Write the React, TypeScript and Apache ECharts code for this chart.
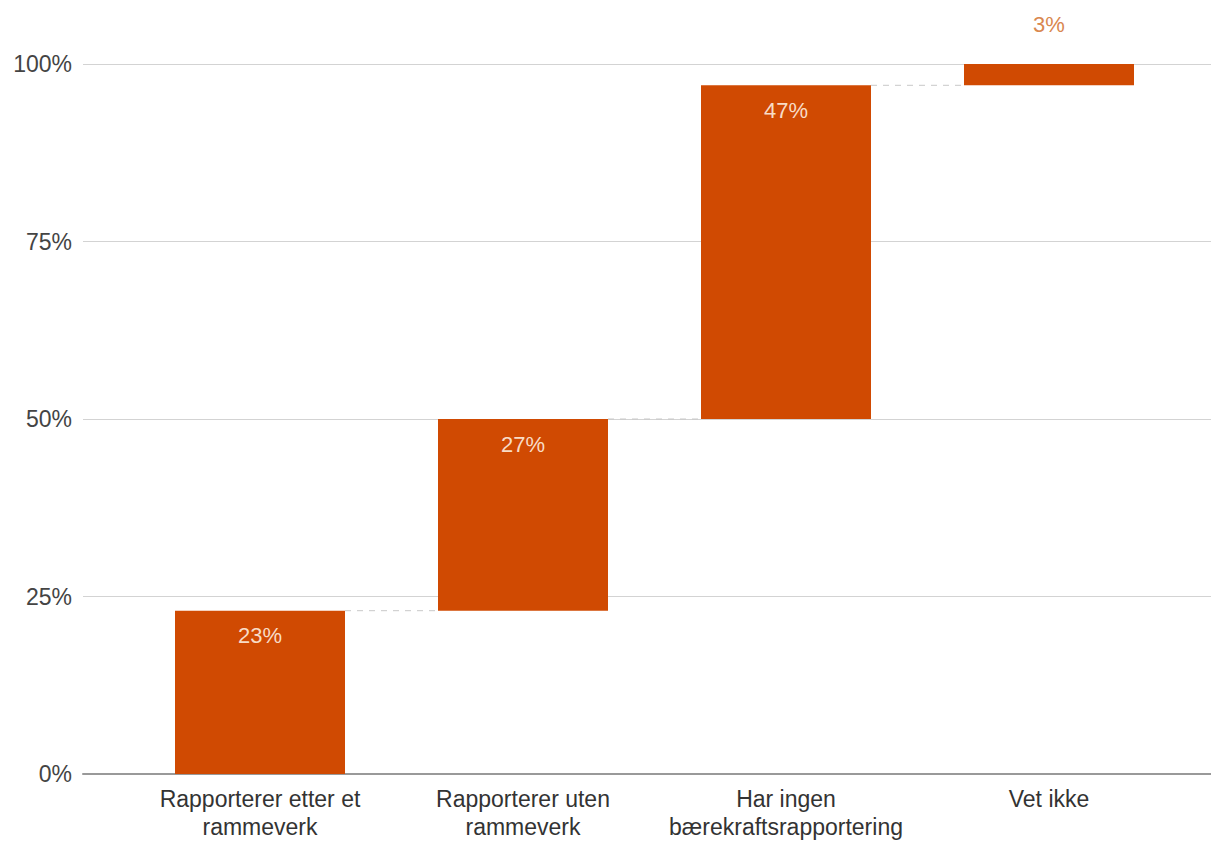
import React, { useEffect, useRef } from "react";
import * as echarts from "echarts";

// Waterfall of how companies report on sustainability (share of respondents)
const categories = [
  "Rapporterer etter et\nrammeverk",
  "Rapporterer uten\nrammeverk",
  "Har ingen\nbærekraftsrapportering",
  "Vet ikke",
];
const shares = [23, 27, 47, 3];
const yTicks = [0, 25, 50, 75, 100];

const ORANGE = "#D04A02";
const FONT = "'Liberation Sans', Arial, sans-serif";
const BAR_WIDTH = 170;

export default function App() {
  const ref = useRef<HTMLDivElement>(null);

  useEffect(() => {
    if (!ref.current) return;
    const chart = echarts.init(ref.current, undefined, { renderer: "svg" });

    // running totals: each bar floats on the sum of the previous ones
    const bases: number[] = [];
    let acc = 0;
    for (const v of shares) {
      bases.push(acc);
      acc += v;
    }
    const tops = shares.map((v, i) => bases[i] + v);
    const lastIdx = shares.length - 1;

    chart.setOption({
      animation: false,
      textStyle: { fontFamily: FONT },
      grid: [
        { left: 83, right: 0, top: 64, bottom: 68 },
        { left: 128.5, right: 30.5, top: 64, bottom: 68 },
      ],
      xAxis: [
        {
          type: "value",
          gridIndex: 0,
          min: 0,
          max: 1,
          axisLine: { show: true, lineStyle: { color: "#999", width: 2 } },
          axisTick: { show: false },
          axisLabel: { show: false },
          splitLine: { show: false },
        },
        {
          type: "category",
          gridIndex: 1,
          data: categories,
          axisLine: { show: false },
          axisTick: { show: false },
          axisLabel: {
            interval: 0,
            hideOverlap: false,
            fontSize: 23,
            color: "#333",
            lineHeight: 28,
            margin: 11,
            fontFamily: FONT,
          },
        },
      ],
      yAxis: [
        {
          type: "value",
          gridIndex: 0,
          min: yTicks[0],
          max: yTicks[yTicks.length - 1],
          interval: 25,
          axisLine: { show: false },
          axisTick: { show: false },
          axisLabel: {
            formatter: "{value}%",
            fontSize: 23,
            color: "#444",
            margin: 11,
            fontFamily: FONT,
          },
          splitLine: { lineStyle: { color: "#d3d3d3", width: 1 } },
        },
        {
          type: "value",
          gridIndex: 1,
          min: 0,
          max: 100,
          show: false,
          splitLine: { show: false },
        },
      ],
      series: [
        {
          type: "bar",
          xAxisIndex: 1,
          yAxisIndex: 1,
          stack: "fall",
          barWidth: BAR_WIDTH,
          silent: true,
          itemStyle: { color: "transparent" },
          data: bases,
          z: 1,
        },
        {
          type: "bar",
          xAxisIndex: 1,
          yAxisIndex: 1,
          stack: "fall",
          barWidth: BAR_WIDTH,
          z: 3,
          itemStyle: { color: ORANGE },
          label: {
            show: true,
            position: "insideTop",
            distance: 14,
            formatter: "{c}%",
            fontSize: 22,
            color: "#f8dcc6",
            fontFamily: FONT,
          },
          data: shares.map((v, i) =>
            i === lastIdx
              ? {
                  value: v,
                  label: { position: "top", distance: 29, color: "#d9874f" },
                }
              : { value: v }
          ),
        },
      ],
    });

    // dashed connectors between the edges of neighbouring bars
    const finder = { xAxisIndex: 1, yAxisIndex: 1 };
    const half = BAR_WIDTH / 2;
    const lines = tops.slice(0, -1).map((t, i) => {
      const a = chart.convertToPixel(finder, [i, t]) as number[];
      const b = chart.convertToPixel(finder, [i + 1, t]) as number[];
      return {
        type: "line",
        silent: true,
        z: 2,
        shape: { x1: a[0] + half, y1: a[1], x2: b[0] - half, y2: b[1] },
        style: { stroke: "#c8c8c8", lineWidth: 1, lineDash: [6, 6] },
      };
    });
    chart.setOption({ graphic: lines });

    return () => chart.dispose();
  }, []);

  return (
    <div
      ref={ref}
      style={{
        position: "fixed",
        left: 0,
        top: 0,
        width: 1211,
        height: 842,
        background: "#fff",
      }}
    />
  );
}
